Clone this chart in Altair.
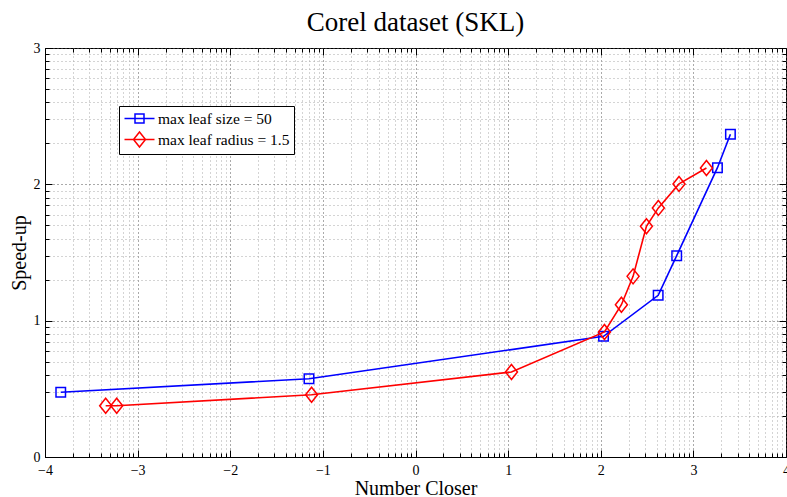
import altair as alt
import pandas as pd
import numpy as np

# ---- data (axis units are decades, as labelled) ----
series_names = ["max leaf size = 50", "max leaf radius = 1.5"]
blue_x = [-3.83, -1.15, 2.03, 2.62, 2.82, 3.26, 3.40]
blue_y = [0.475, 0.574, 0.885, 1.186, 1.477, 2.122, 2.367]
red_x = [-3.345, -3.226, -1.122, 1.036, 2.04, 2.223, 2.349, 2.493, 2.622, 2.845, 3.141]
red_y = [0.376, 0.376, 0.457, 0.624, 0.917, 1.117, 1.325, 1.692, 1.827, 2.003, 2.120]
x_major = [-4, -3, -2, -1, 0, 1, 2, 3, 4]
y_major = [0, 1, 2, 3]
title_text = "Corel dataset (SKL)"
x_title = "Number Closer"
y_title = "Speed-up"

df = pd.DataFrame({
    "x": blue_x + red_x,
    "y": blue_y + red_y,
    "series": [series_names[0]] * len(blue_x) + [series_names[1]] * len(red_x),
})

W, H = 741, 409
FONT = "Liberation Serif"
minor = [float(v) for v in np.log10(np.arange(2, 10))]
x_vals = sorted(x_major + [d + k for d in x_major[:-1] for k in minor])
y_vals = sorted(y_major + [d + k for d in y_major[:-1] for k in minor])

is_major = "abs(datum.value - round(datum.value)) < 0.000001"
label_expr = f"{is_major} ? format(round(datum.value), 'd') : ''"
tick_size = {"condition": {"test": is_major, "value": 7}, "value": 4}

xs = alt.Scale(domain=[-4, 4], nice=False, zero=False)
ys = alt.Scale(domain=[0, 3], nice=False, zero=False)

grid_color = {"condition": {"test": is_major, "value": "#555555"}, "value": "#a8a8a8"}

main_x = alt.Axis(values=x_vals, orient="bottom", title=x_title, labelExpr=label_expr,
                  labelFont=FONT, labelFontSize=14, labelColor="black", labelPadding=6,
                  labelAngle=0, labelOverlap=False, labelFlush=False, ticks=False,
                  domain=True, domainColor="black", domainWidth=1,
                  grid=True, gridColor=grid_color, gridDash=[1, 3], gridWidth=1,
                  titleFont=FONT, titleFontSize=20, titleFontWeight="normal",
                  titleColor="black", titlePadding=1)
main_y = alt.Axis(values=y_vals, orient="left", title=y_title, labelExpr=label_expr,
                  labelFont=FONT, labelFontSize=14, labelColor="black", labelPadding=5,
                  labelOverlap=False, labelFlush=False, ticks=False,
                  domain=True, domainColor="black", domainWidth=1,
                  grid=True, gridColor=grid_color, gridDash=[1, 3], gridWidth=1,
                  titleFont=FONT, titleFontSize=20, titleFontWeight="normal",
                  titleColor="black", titlePadding=4)


def tick_axis(vals, orient, offset):
    return alt.Axis(values=vals, orient=orient, offset=offset, title=None, labels=False,
                    domain=False, grid=False, ticks=True, tickColor="black",
                    tickWidth=1, tickSize=tick_size)


sq_mark = "square"
di_mark = "M0,-1.25L1,0L0,1.25L-1,0Z"
sq_leg = "M-2,0H2M-0.6,-0.6H0.6V0.6H-0.6Z"
di_leg = "M-2,0H2M0,-1L0.8,0L0,1L-0.8,0Z"

base = alt.Chart(df)
blue = base.transform_filter(alt.datum.series == series_names[0])
red = base.transform_filter(alt.datum.series == series_names[1])

l_blue_line = blue.mark_line(color="#0000ff", strokeWidth=1.6).encode(
    x=alt.X("x:Q", scale=xs, axis=main_x),
    y=alt.Y("y:Q", scale=ys, axis=main_y),
)
l_blue_pts = blue.mark_point(shape=sq_mark, size=90, filled=False, color="#0000ff",
                             strokeWidth=1.5, opacity=1).encode(
    x=alt.X("x:Q", scale=xs, axis=tick_axis(x_vals, "top", -H)),
    y=alt.Y("y:Q", scale=ys, axis=tick_axis(y_vals, "right", -W)),
)
l_red_line = red.mark_line(color="#ff0000", strokeWidth=1.6).encode(
    x=alt.X("x:Q", scale=xs, axis=tick_axis(x_vals, "bottom", -H)),
    y=alt.Y("y:Q", scale=ys, axis=tick_axis(y_vals, "left", -W)),
)
l_red_pts = red.mark_point(shape=di_mark, size=144, filled=False, color="#ff0000",
                           strokeWidth=1.5, opacity=1).encode(
    x=alt.X("x:Q", scale=xs, axis=None),
    y=alt.Y("y:Q", scale=ys, axis=None),
)

leg = alt.Legend(title=None, orient="none", legendX=74, legendY=58, fillColor="white",
                 strokeColor="black", padding=4, symbolSize=225, symbolStrokeWidth=1.5,
                 symbolOffset=8, labelOffset=10, labelFont=FONT, labelFontSize=15.5,
                 labelColor="black", rowPadding=2, cornerRadius=0,
                 labelExpr="datum.label + '  '")
l_legend = base.transform_filter("false").mark_point(filled=False, strokeWidth=1.5, opacity=1).encode(
    x=alt.X("x:Q", scale=xs, axis=None),
    y=alt.Y("y:Q", scale=ys, axis=None),
    color=alt.Color("series:N", scale=alt.Scale(domain=series_names, range=["#0000ff", "#ff0000"]), legend=leg),
    shape=alt.Shape("series:N", scale=alt.Scale(domain=series_names, range=[sq_leg, di_leg]), legend=leg),
)

chart = alt.layer(l_blue_line, l_blue_pts, l_red_line, l_red_pts, l_legend).resolve_axis(
    x="independent", y="independent"
).properties(
    width=W, height=H,
    title=alt.TitleParams(title_text, font=FONT, fontSize=27, fontWeight="normal",
                          color="black", anchor="middle", frame="group",
                          baseline="alphabetic", offset=15, dy=32),
    autosize=alt.AutoSizeParams(type="none"),
    padding={"left": 45, "top": 48, "right": 1, "bottom": 40},
    background="white",
).configure_view(stroke="black", strokeWidth=1)

chart.save("out.html", embed_options={"renderer": "svg", "actions": False})
